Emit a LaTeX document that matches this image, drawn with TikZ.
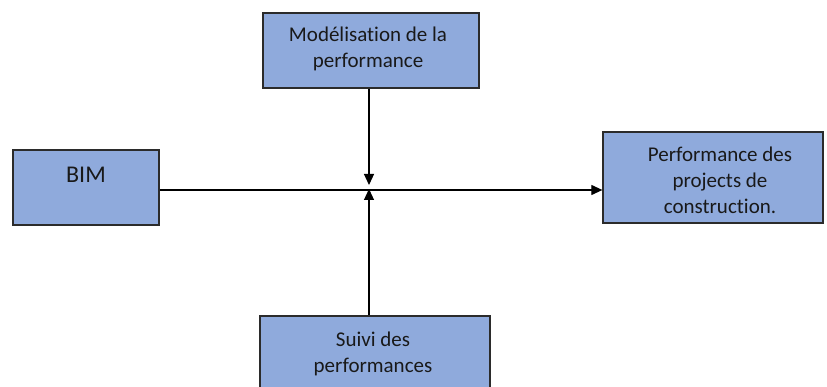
\documentclass[tikz,border=0pt]{standalone}
\usepackage{fontspec}
\setmainfont[Ligatures=NoCommon]{Carlito}
\usetikzlibrary{arrows.meta}
\definecolor{boxfill}{HTML}{8FAADC}
\definecolor{boxline}{HTML}{2B2B2B}
\tikzset{
  block/.style={draw=boxline, line width=1.3pt, fill=boxfill, inner sep=0pt},
  caption/.style={align=center, inner sep=0pt, text=black!90,
    font=\fontsize{21}{26}\selectfont},
  link/.style={line width=1.2pt, -{Triangle[length=11pt,width=10pt]}}
}
\begin{document}
\begin{tikzpicture}[x=1pt,y=-1pt]
  \useasboundingbox (0,0) rectangle (827,387);
  % boxes
  \node[block, minimum width=216pt, minimum height=75pt] (model) at (371,50.5) {};
  \node[block, minimum width=146pt, minimum height=75pt] (bim) at (86,187.5) {};
  \node[block, minimum width=220pt, minimum height=91pt] (perf) at (713,177.5) {};
  \node[block, minimum width=230pt, minimum height=80pt] (suivi) at (375,356) {};
  % captions
  \node[caption] (tmodel) at (368,49) {Modélisation de la\\performance};
  \node[caption, font=\fontsize{24}{26}\selectfont] (tbim) at (86,175) {BIM};
  \node[caption] (tperf) at (720,180) {Performance des\\projects de\\construction.};
  \node[caption] (tsuivi) at (373,354) {Suivi des\\performances};
  % junction on the main line
  \coordinate (j) at (369,190);
  \coordinate (jtop) at (369,185);
  \coordinate (jbot) at (369,189);
  % connectors
  \draw[link] (bim.east |- j) -- (perf.west |- j);
  \draw[link] (model.south -| j) -- (jtop);
  \draw[link] (suivi.north -| j) -- (jbot);
\end{tikzpicture}
\end{document}
